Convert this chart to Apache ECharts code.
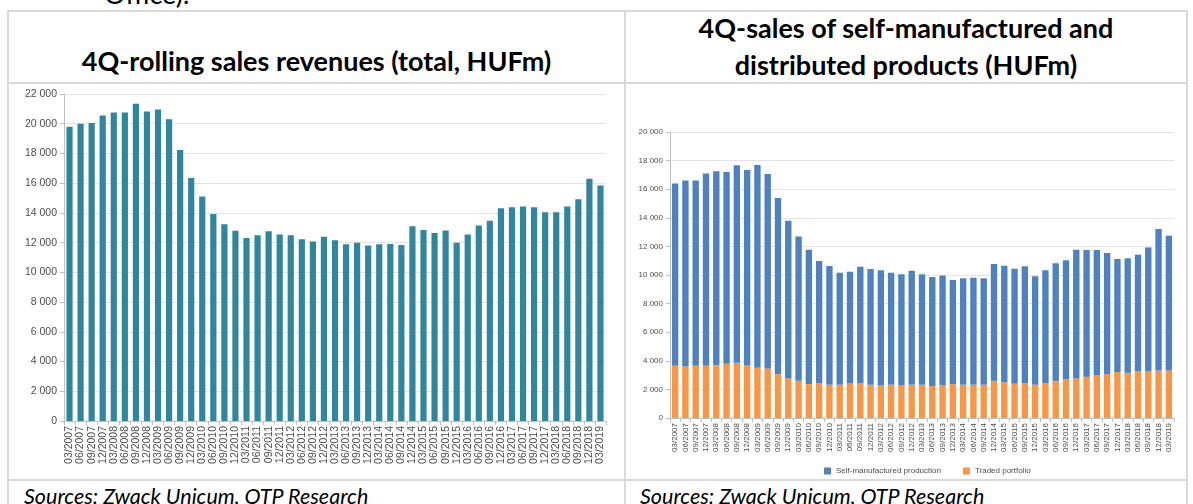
<!DOCTYPE html>
<html>
<head>
<meta charset="utf-8">
<script src="https://cdn.jsdelivr.net/npm/echarts@6.0.0/dist/echarts.min.js"></script>
<style>
  html, body { margin: 0; padding: 0; background: #fff; }
  body { width: 1193px; height: 504px; position: relative; overflow: hidden; font-family: Lato, "Open Sans", sans-serif; }
  .rule { position: absolute; background: #d9d9d9; }
  .title { position: absolute; font-weight: bold; color: #000; text-align: center; font-size: 27px; line-height: 37px; white-space: nowrap; }
  .source { position: absolute; top: 483px; font-style: italic; font-size: 21.5px; color: #000; white-space: nowrap; }
  .chart { position: absolute; }
</style>
</head>
<body>
  <div style="position:absolute; left:104px; top:-23px; font-size:27px; color:#000;">Office).</div>

  <div class="rule" style="left:7px; top:10px; width:1181px; height:2px;"></div>
  <div class="rule" style="left:7px; top:82px; width:1181px; height:2px;"></div>
  <div class="rule" style="left:7px; top:479px; width:1181px; height:2px;"></div>
  <div class="rule" style="left:7px; top:10px; width:2px; height:494px;"></div>
  <div class="rule" style="left:624px; top:10px; width:2px; height:494px;"></div>
  <div class="rule" style="left:1186px; top:10px; width:2px; height:494px;"></div>

  <div class="title" style="left:9px; width:615px; top:42px;">4Q-rolling sales revenues (total, HUFm)</div>
  <div class="title" style="left:626px; width:560px; top:9px;">4Q-sales of self-manufactured and<br>distributed products (HUFm)</div>

  <div class="source" style="left:24px;">Sources: Zwack Unicum, OTP Research</div>
  <div class="source" style="left:640px;">Sources: Zwack Unicum, OTP Research</div>

  <div id="left" class="chart" style="left:10px; top:84px; width:614px; height:395px;"></div>
  <div id="right" class="chart" style="left:627px; top:84px; width:559px; height:395px;"></div>

<script>
const periods = [
  '03/2007', '06/2007', '09/2007', '12/2007', '03/2008', '06/2008', '09/2008', '12/2008',
  '03/2009', '06/2009', '09/2009', '12/2009', '03/2010', '06/2010', '09/2010', '12/2010',
  '03/2011', '06/2011', '09/2011', '12/2011', '03/2012', '06/2012', '09/2012', '12/2012',
  '03/2013', '06/2013', '09/2013', '12/2013', '03/2014', '06/2014', '09/2014', '12/2014',
  '03/2015', '06/2015', '09/2015', '12/2015', '03/2016', '06/2016', '09/2016', '12/2016',
  '03/2017', '06/2017', '09/2017', '12/2017', '03/2018', '06/2018', '09/2018', '12/2018',
  '03/2019'
];

// 4Q-rolling total sales revenues, HUFm
const totalRevenue = [
  19800, 20000, 20050, 20550, 20750, 20750, 21340, 20820, 20950, 20300,
  18240, 16350, 15110, 13930, 13230, 12800, 12310, 12490, 12760, 12550,
  12490, 12225, 12070, 12400, 12160, 11890, 12000, 11800, 11890, 11910,
  11840, 13100, 12850, 12650, 12810, 12000, 12540, 13150, 13480, 14310,
  14380, 14430, 14380, 14040, 14040, 14430, 14920, 16290, 15840
];

// self-manufactured production, HUFm
const selfManufactured = [
  12750, 13000, 12950, 13450, 13550, 13410, 13810, 13670, 14180, 13600,
  12310, 11030, 10100, 9400, 8560, 8300, 7830, 7810, 8160, 8090,
  8050, 7830, 7770, 7970, 7720, 7630, 7680, 7280, 7440, 7480,
  7440, 8170, 8160, 8040, 8170, 7580, 7890, 8220, 8330, 9000,
  8870, 8770, 8470, 7910, 8010, 8160, 8670, 9890, 9420
];

// traded portfolio, HUFm
const tradedPortfolio = [
  3650, 3600, 3650, 3650, 3700, 3790, 3860, 3670, 3510, 3470,
  3070, 2770, 2600, 2370, 2420, 2330, 2330, 2420, 2420, 2330,
  2280, 2330, 2280, 2330, 2330, 2230, 2280, 2370, 2330, 2330,
  2330, 2600, 2490, 2400, 2440, 2330, 2440, 2600, 2700, 2770,
  2880, 2980, 3070, 3210, 3160, 3260, 3260, 3330, 3330
];

const labelFont = '"Liberation Sans", Arial, sans-serif';
const axisGrey = '#bfbfbf';
const textGrey = '#4d4d4d';

// thousands with a space, like "22 000"
const fmt = v => String(v).replace(/\B(?=(\d{3})+(?!\d))/g, ' ');

function axes(fontSize, maxVal) {
  return {
    xAxis: {
      type: 'category',
      data: periods,
      axisLine: { lineStyle: { color: axisGrey } },
      axisTick: { show: true, length: 4, lineStyle: { color: axisGrey } },
      axisLabel: { rotate: 90, interval: 0, fontSize: fontSize, color: textGrey, margin: 5, fontFamily: labelFont }
    },
    yAxis: {
      type: 'value',
      min: 0,
      max: maxVal,
      interval: 2000,
      axisLine: { show: true, lineStyle: { color: axisGrey } },
      axisTick: { show: true, length: 4, lineStyle: { color: axisGrey } },
      splitLine: { lineStyle: { color: '#e4e4e4' } },
      axisLabel: { formatter: fmt, fontSize: fontSize, color: textGrey, margin: 7, fontFamily: labelFont }
    }
  };
}

const leftChart = echarts.init(document.getElementById('left'));
leftChart.setOption(Object.assign({
  animation: false,
  grid: { left: 54, right: 18, top: 10, bottom: 58 },
  series: [{
    name: 'Total sales revenues',
    type: 'bar',
    data: totalRevenue,
    barWidth: '56%',
    itemStyle: { color: '#31859C' }
  }]
}, axes(10.5, 22000)));

const rightChart = echarts.init(document.getElementById('right'));
rightChart.setOption(Object.assign({
  animation: false,
  grid: { left: 43, right: 12, top: 48, bottom: 61 },
  legend: {
    data: ['Self-manufactured production', 'Traded portfolio'],
    left: 192,
    top: 378,
    itemWidth: 7,
    itemHeight: 7,
    itemGap: 22,
    icon: 'rect',
    textStyle: { fontSize: 8, color: textGrey, fontFamily: labelFont }
  },
  series: [
    {
      name: 'Traded portfolio',
      type: 'bar',
      stack: 'sales',
      data: tradedPortfolio,
      barWidth: '62%',
      itemStyle: { color: '#F79646' }
    },
    {
      name: 'Self-manufactured production',
      type: 'bar',
      stack: 'sales',
      data: selfManufactured,
      barWidth: '62%',
      itemStyle: { color: '#4F81BD' }
    }
  ]
}, axes(8, 20000)));
</script>
</body>
</html>
